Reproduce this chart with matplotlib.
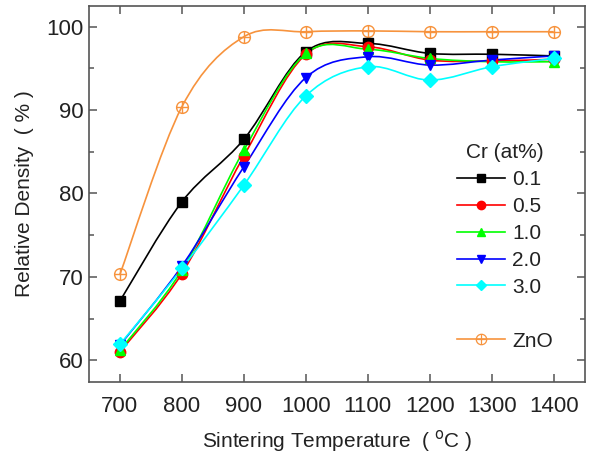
import matplotlib
matplotlib.use('Agg')
import matplotlib.pyplot as plt
import numpy as np
from matplotlib.path import Path
from matplotlib.patches import PathPatch
from matplotlib.lines import Line2D
from matplotlib.ticker import MultipleLocator

plt.rcParams['font.family'] = ['Liberation Sans', 'DejaVu Sans']

# Data
temps = [700, 800, 900, 1000, 1100, 1200, 1300, 1400]
cr_01 = [67.1, 79.0, 86.5, 97.0, 98.0, 96.8, 96.7, 96.5]
cr_05 = [61.0, 70.4, 84.5, 96.7, 97.6, 96.0, 95.9, 96.1]
cr_10 = [61.2, 70.8, 85.2, 96.8, 97.3, 96.2, 95.8, 95.8]
cr_20 = [61.8, 71.3, 83.2, 93.9, 96.4, 95.4, 96.0, 96.5]
cr_30 = [61.9, 71.0, 81.0, 91.7, 95.2, 93.6, 95.2, 96.2]
zno = [70.3, 90.4, 98.8, 99.4, 99.5, 99.4, 99.4, 99.4]

series = [
    ('0.1', cr_01, '#000000', 's'),
    ('0.5', cr_05, '#ff0000', 'o'),
    ('1.0', cr_10, '#00ff00', '^'),
    ('2.0', cr_20, '#0000ff', 'v'),
    ('3.0', cr_30, '#00ffff', 'D'),
]
zno_color = '#f7933d'

textcolour = '#222222'
linecolour = '#555555'

fig = plt.figure(figsize=(5.93, 4.53), dpi=100)
ax = fig.add_axes([0.150, 0.157, 0.836, 0.830])


def smooth_path(xs, ys):
    # Catmull-Rom style bezier through the points
    pts = np.column_stack([xs, ys]).astype(float)
    n = len(pts)
    verts = [pts[0]]
    codes = [Path.MOVETO]
    for i in range(n - 1):
        p0 = pts[i - 1] if i > 0 else pts[i]
        p1 = pts[i]
        p2 = pts[i + 1]
        p3 = pts[i + 2] if i + 2 < n else pts[i + 1]
        c1 = p1 + (p2 - p0) / 6.0
        c2 = p2 - (p3 - p1) / 6.0
        verts += [c1, c2, p2]
        codes += [Path.CURVE4] * 3
    return Path(verts, codes)


# circle with cross marker
circ = Path.unit_circle()
cross = Path([(-1, 0), (1, 0), (0, -1), (0, 1)],
             [Path.MOVETO, Path.LINETO, Path.MOVETO, Path.LINETO])
oplus = Path.make_compound_path(circ, cross)

ax.add_patch(PathPatch(smooth_path(temps, zno), fill=False,
                       edgecolor=zno_color, lw=1.2, zorder=2))
ax.plot(temps, zno, linestyle='none', marker=oplus, ms=8.5,
        mfc='none', mec=zno_color, mew=1.0, zorder=3)

handles = []
labels = []
for lab, vals, col, mk in series:
    ax.add_patch(PathPatch(smooth_path(temps, vals), fill=False,
                           edgecolor=col, lw=1.2, zorder=2))
    ms = 7 if mk == 'D' else 7.5
    ax.plot(temps, vals, linestyle='none', marker=mk, ms=ms,
            color=col, mec=col, zorder=3)
    handles.append(Line2D([], [], color=col, lw=1.2, marker=mk, ms=ms - 1.5))
    labels.append(lab)

handles.append(Line2D([], [], linestyle='none'))
labels.append('')
handles.append(Line2D([], [], color=zno_color, lw=1.2, marker=oplus, ms=7.5,
                      mfc='none', mec=zno_color, mew=0.9))
labels.append('ZnO')

ax.set_xlim(650, 1450)
ax.set_ylim(57.4, 102.5)
ax.xaxis.set_major_locator(MultipleLocator(100))
ax.yaxis.set_major_locator(MultipleLocator(10))
ax.yaxis.set_minor_locator(MultipleLocator(5))

for s in ax.spines.values():
    s.set_color(linecolour)
    s.set_linewidth(1.2)

ax.tick_params(which='both', direction='in', top=True, right=True,
               colors=linecolour, labelcolor=textcolour, labelsize=16)
ax.tick_params(which='major', length=6, width=1.1)
ax.tick_params(which='minor', length=3.5, width=1.1)
ax.tick_params(axis='x', which='major', pad=10)
ax.tick_params(axis='y', which='major', pad=4)

ax.set_xlabel('Sintering Temperature  ( $^\\mathrm{o}$C )', fontsize=15,
              color=textcolour, labelpad=8)
ax.set_ylabel('Relative Density  ( % )', fontsize=15, color=textcolour,
              labelpad=9)

leg = ax.legend(handles, labels, title='Cr (at%)', loc='upper left',
                bbox_to_anchor=(0.742, 0.635), frameon=False, fontsize=15,
                title_fontsize=15, handlelength=2.3, handletextpad=0.35,
                labelspacing=0.38, borderpad=0, borderaxespad=0)
for t in leg.get_texts():
    t.set_color(textcolour)
leg.get_title().set_color(textcolour)

fig.savefig('out.png', dpi=100)
